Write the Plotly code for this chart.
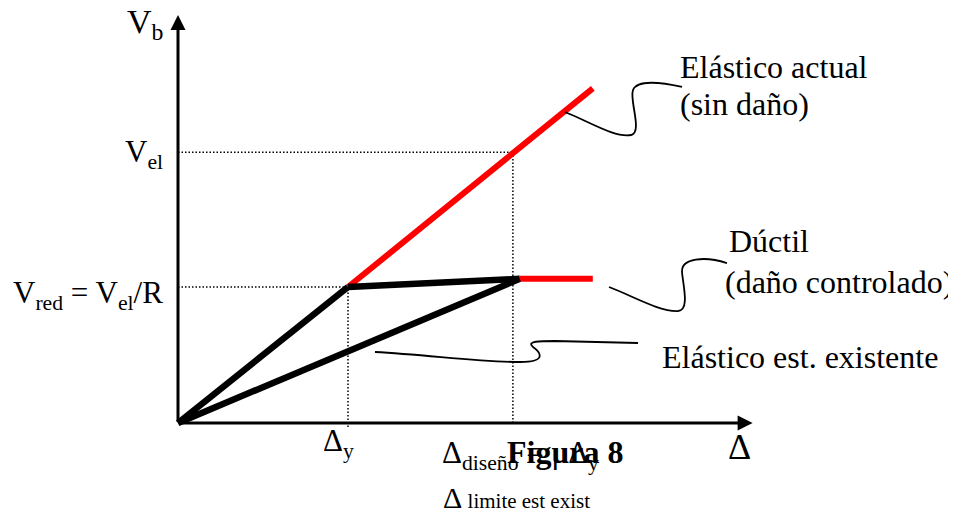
import plotly.graph_objects as go

# browser page keeps an 8px body margin, so the figure is 8px smaller
PAGE_OFF = 8
W, H = 956 - PAGE_OFF, 514 - PAGE_OFF

# --- diagram values (Δy = 1, V_red = 1) ---
delta_y = 1.0
delta_diseno = 1.97
v_red = 1.0
v_el = 1.99
ductile_end_x = 2.01
ductile_end_y = 1.06
plateau_end_x = 2.44
elastic_top_x = 2.44
elastic_top_y = 2.46
x_axis_end = 3.38
y_axis_end = 3.0

# elastic (sin daño): black up to yield, then red
elastic_black_x = [0.0, delta_y]
elastic_black_y = [0.0, v_red]
elastic_red_x = [delta_y, elastic_top_x]
elastic_red_y = [v_red, elastic_top_y]
# ductil (daño controlado)
ductile_x = [delta_y, ductile_end_x]
ductile_y = [v_red, ductile_end_y]
plateau_x = [ductile_end_x, plateau_end_x]
plateau_y = [ductile_end_y, ductile_end_y]
# elastico estructura existente
existing_x = [0.0, ductile_end_x]
existing_y = [0.0, ductile_end_y]

FONT = "Liberation Serif"


def P(x, y):
    # window pixel position -> paper fraction
    return (x - PAGE_OFF) / W, 1 - (y - PAGE_OFF) / H


def path(points):
    s = ""
    for cmd, pts in points:
        s += cmd + " " + " ".join("%.4f,%.4f" % P(*p) for p in pts) + " "
    return s.strip()


fig = go.Figure()

line_red = dict(color="#ff0000", width=6)
line_blk = dict(color="black", width=6.5)
dot = dict(color="black", width=1.5, dash="1.5px,2px")

# dotted guides
fig.add_trace(go.Scatter(x=[0, delta_diseno], y=[v_el, v_el], mode="lines", line=dot))
fig.add_trace(go.Scatter(x=[delta_diseno, delta_diseno], y=[0, v_el], mode="lines", line=dot))
fig.add_trace(go.Scatter(x=[0, delta_y], y=[v_red, v_red], mode="lines", line=dot))
fig.add_trace(go.Scatter(x=[delta_y, delta_y], y=[-0.03, v_red], mode="lines", line=dot))

# curves
fig.add_trace(go.Scatter(x=elastic_red_x, y=elastic_red_y, mode="lines", line=line_red))
fig.add_trace(go.Scatter(x=plateau_x, y=plateau_y, mode="lines", line=line_red))
fig.add_trace(go.Scatter(x=elastic_black_x, y=elastic_black_y, mode="lines", line=line_blk))
fig.add_trace(go.Scatter(x=ductile_x, y=ductile_y, mode="lines", line=line_blk))
fig.add_trace(go.Scatter(x=existing_x, y=existing_y, mode="lines", line=line_blk))

# axes with arrows
for tip, tail in [((x_axis_end, 0), (0, 0)), ((0, y_axis_end), (0, 0))]:
    fig.add_annotation(x=tip[0], y=tip[1], ax=tail[0], ay=tail[1],
                       xref="x", yref="y", axref="x", ayref="y",
                       text="", showarrow=True, arrowhead=2, arrowsize=1,
                       arrowwidth=3, arrowcolor="black")

# wavy leader lines
leaders = [
    [("M", [(565, 112)]), ("C", [(590, 122), (615, 138), (631, 135)]),
     ("C", [(643, 132), (629, 100), (633, 90)]), ("C", [(637, 80), (660, 82), (682, 87)])],
    [("M", [(609, 287)]), ("C", [(635, 297), (660, 312), (678, 311)]),
     ("C", [(690, 310), (683, 285), (682, 272)]), ("C", [(681, 258), (705, 256), (727, 263)])],
    [("M", [(375, 352)]), ("C", [(430, 355), (480, 362), (520, 362)]),
     ("C", [(548, 362), (540, 352), (533, 347)]), ("C", [(526, 341), (540, 341), (555, 341)]),
     ("L", [(638, 343)])],
]
for pts in leaders:
    fig.add_shape(type="path", path=path(pts), xref="paper", yref="paper",
                  line=dict(color="black", width=1.8))

labels = [
    ("V<sub>b</sub>", 165, 24, "right", 34),
    ("V<sub>el</sub>", 165, 154, "right", 31),
    ("V<sub>red</sub> = V<sub>el</sub>/R", 165, 295, "right", 31),
    ("Elástico actual", 678, 67, "left", 32),
    ("(sin daño)", 678, 104, "left", 32),
    ("Dúctil", 727, 241, "left", 32),
    ("(daño controlado)", 723, 282, "left", 32),
    ("Elástico est. existente", 660, 357, "left", 32),
    ("Δ<sub>y</sub>", 321, 443, "left", 31),
    ("Δ<sub>diseño</sub> = μΔ<sub>y</sub>", 440, 455, "left", 31),
    ("<b>Figura 8</b>", 505, 452, "left", 32),
    ("Δ<span style='font-size:21px'> limite est exist</span>", 441, 497, "left", 30),
    ("Δ", 726, 447, "left", 36),
]
for text, x, y, anchor, size in labels:
    px, py = P(x, y)
    fig.add_annotation(x=px, y=py, xref="paper", yref="paper", text=text,
                       showarrow=False, xanchor=anchor, yanchor="middle",
                       font=dict(family=FONT, size=size, color="black"))

x0, y0 = 178 - PAGE_OFF, 423 - PAGE_OFF  # origin in figure pixels
fig.update_layout(
    width=W, height=H,
    margin=dict(l=0, r=0, t=0, b=0),
    plot_bgcolor="white", paper_bgcolor="white",
    showlegend=False,
)
fig.update_xaxes(range=[-x0 / 170, (W - x0) / 170], visible=False)
fig.update_yaxes(range=[-(H - y0) / 136, y0 / 136], visible=False)

fig.write_html("out.html")
